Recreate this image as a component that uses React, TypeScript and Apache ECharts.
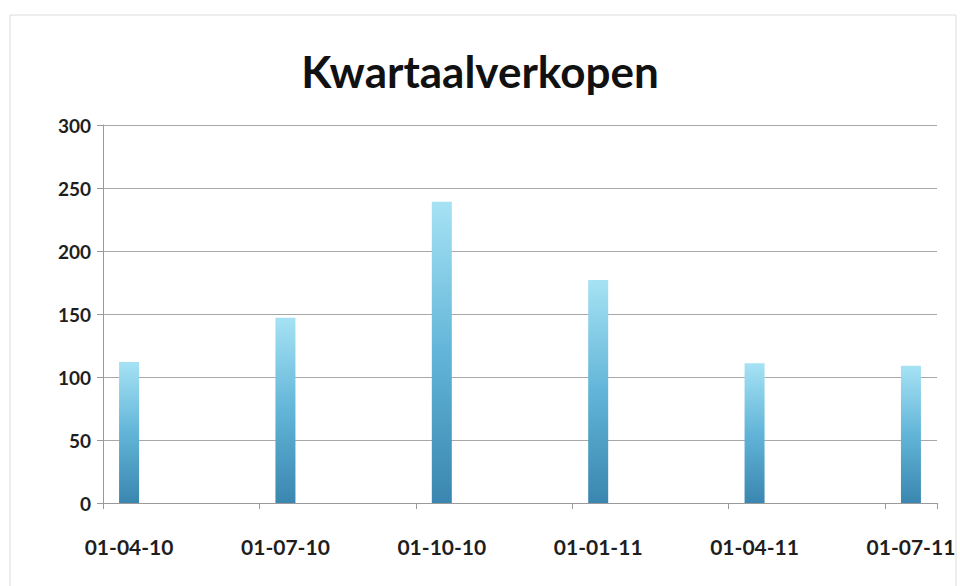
import React, { useEffect, useRef } from "react";
import * as echarts from "echarts";

const title = "Kwartaalverkopen";
const months = [
  "01-04-10", "01-05-10", "01-06-10",
  "01-07-10", "01-08-10", "01-09-10",
  "01-10-10", "01-11-10", "01-12-10",
  "01-01-11", "01-02-11", "01-03-11",
  "01-04-11", "01-05-11", "01-06-11",
  "01-07-11",
];
const sales: (number | null)[] = [
  112, null, null,
  147, null, null,
  239, null, null,
  177, null, null,
  111, null, null,
  109,
];
const yTicks = { min: 0, max: 300, interval: 50 };

export default function App() {
  const ref = useRef<HTMLDivElement>(null);
  useEffect(() => {
    if (!ref.current) return;
    const chart = echarts.init(ref.current, null, { renderer: "svg" });
    const font = "Lato, 'Open Sans', sans-serif";
    chart.setOption({
      animation: false,
      backgroundColor: "#ffffff",
      title: {
        text: title,
        left: "center",
        top: 44,
        textStyle: { fontFamily: font, fontWeight: "bold", fontSize: 44, color: "#111111" },
      },
      graphic: [
        {
          type: "rect",
          shape: { x: 10, y: 15, width: 946, height: 580 },
          style: { fill: "none", stroke: "#dcdcdc", lineWidth: 1 },
          silent: true,
        },
      ],
      grid: { left: 103, right: 23, top: 125, bottom: 83 },
      xAxis: {
        type: "category",
        data: months,
        boundaryGap: true,
        axisLine: { lineStyle: { color: "#9a9a9a", width: 1 } },
        axisTick: { show: true, interval: 2, length: 6, lineStyle: { color: "#9a9a9a" } },
        axisLabel: {
          interval: 2,
          margin: 33,
          fontFamily: font,
          fontWeight: "bold",
          fontSize: 21,
          color: "#1e1e1e",
        },
        splitLine: { show: false },
      },
      yAxis: {
        type: "value",
        min: yTicks.min,
        max: yTicks.max,
        interval: yTicks.interval,
        axisLine: { show: true, lineStyle: { color: "#9a9a9a", width: 1 } },
        axisTick: { show: true, length: 6, lineStyle: { color: "#9a9a9a" } },
        axisLabel: {
          margin: 12,
          fontFamily: font,
          fontWeight: "bold",
          fontSize: 19,
          color: "#1e1e1e",
        },
        splitLine: { show: true, lineStyle: { color: "#a8a8a8", width: 1 } },
      },
      series: [
        {
          type: "bar",
          data: sales,
          barWidth: 20,
          itemStyle: {
            color: new echarts.graphic.LinearGradient(0, 0, 0, 1, [
              { offset: 0, color: "#a6e2f4" },
              { offset: 0.5, color: "#62b5d8" },
              { offset: 1, color: "#3a86b0" },
            ]),
          },
        },
      ],
    });
    return () => chart.dispose();
  }, []);
  return (
    <div
      ref={ref}
      style={{ position: "fixed", left: 0, top: 0, width: 960, height: 586 }}
    />
  );
}
